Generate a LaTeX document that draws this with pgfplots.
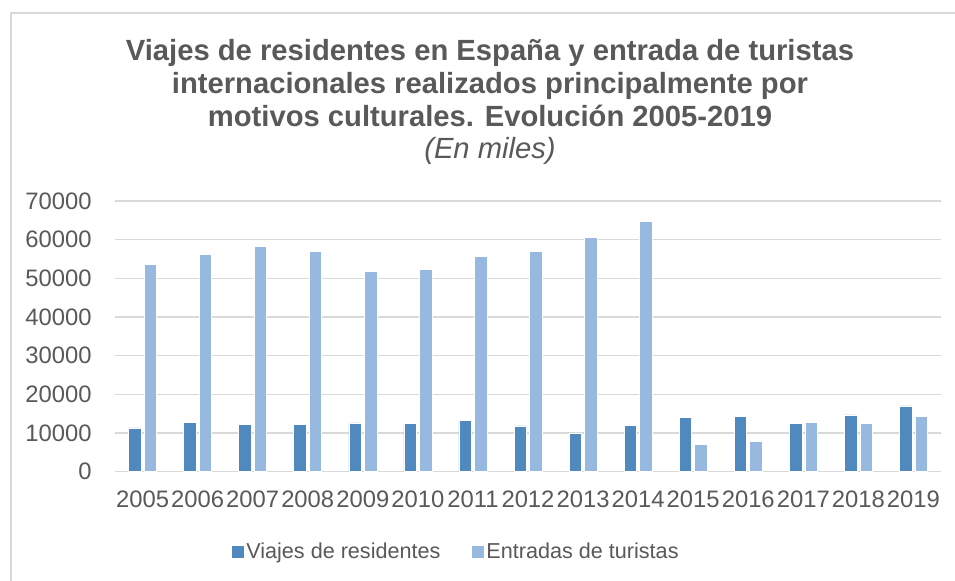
\documentclass[border=0pt]{standalone}
\usepackage{pgfplots}
\pgfplotsset{compat=1.18}
\usepackage{fontspec}
\setmainfont{Liberation Sans}
\definecolor{txt}{HTML}{595959}
\definecolor{gridc}{HTML}{D9D9D9}
\definecolor{res}{HTML}{4F89BD}
\definecolor{ent}{HTML}{97B9E0}
\begin{document}
\begin{tikzpicture}
\useasboundingbox (0,0) rectangle (477.5pt,290.5pt);
\fill[white] (0,0) rectangle (477.5pt,290.5pt);
\draw[gridc, line width=0.6pt] (5.5pt,-5pt) -- (5.5pt,284pt) -- (485pt,284pt);
\node[anchor=base, text=txt, inner sep=0pt, font=\fontsize{14.6}{16}\selectfont\bfseries] at (245pt,260.15pt) {Viajes de residentes en España y entrada de turistas};
\node[anchor=base, text=txt, inner sep=0pt, font=\fontsize{14.6}{16}\selectfont\bfseries] at (245pt,243.85pt) {internacionales realizados principalmente por};
\node[anchor=base, text=txt, inner sep=0pt, font=\fontsize{14.6}{16}\selectfont\bfseries] at (245pt,227.15pt) {motivos culturales. Evolución 2005-2019};
\node[anchor=base, text=txt, inner sep=0pt, font=\fontsize{14.6}{16}\selectfont\itshape] at (245pt,211.25pt) {(En miles)};
\begin{axis}[
  at={(57.5pt,54.65pt)}, anchor=south west,
  scale only axis, width=413pt, height=135.35pt,
  ybar=1.5pt, bar width=6.25pt,
  xmin=-0.5, xmax=14.5, ymin=0, ymax=70000,
  xtick=data,
  xticklabels={2005,2006,2007,2008,2009,2010,2011,2012,2013,2014,2015,2016,2017,2018,2019},
  ytick={0,10000,20000,30000,40000,50000,60000,70000},
  scaled y ticks=false,
  ymajorgrids, major grid style={draw=gridc, line width=0.75pt},
  axis x line*=bottom, axis y line*=left,
  y axis line style={draw=none},
  x axis line style={draw=gridc, line width=0.75pt},
  tick style={draw=none}, major tick length=0pt,
  tick label style={text=txt, font=\fontsize{11.9}{14}\selectfont},
  /pgf/number format/1000 sep={},
  /pgf/number format/assume math mode=true,
  yticklabel style={anchor=east, inner sep=0pt, xshift=-11.5pt},
  xticklabel style={anchor=north, inner sep=0pt, yshift=-9.6pt},
  legend columns=2,
  legend style={at={(0.4134,-0.2955)}, anchor=center, draw=none, fill=none,
    font=\fontsize{10.8}{12}\selectfont, text=txt,
    nodes={inner xsep=1pt, inner ysep=0pt},
    /tikz/every even column/.append style={column sep=15pt}},
  legend cell align=left,
  legend image code/.code={\fill[#1, draw=none] (0pt,-3pt) rectangle (6pt,3pt);},
]
\addplot[fill=res, draw=white, line width=0.3pt] coordinates {
(0,11340) (1,12810) (2,12220) (3,12220) (4,12630) (5,12470) (6,13250) (7,11860)
(8,9900) (9,12040) (10,14010) (11,14350) (12,12550) (13,14690) (14,17010)};
\addplot[fill=ent, draw=white, line width=0.3pt] coordinates {
(0,53530) (1,56110) (2,58170) (3,56880) (4,51800) (5,52240) (6,55770) (7,57060)
(8,60490) (9,64790) (10,7060) (11,7910) (12,12810) (13,12550) (14,14350)};
\legend{Viajes de residentes, Entradas de turistas}
\end{axis}
\end{tikzpicture}
\end{document}
